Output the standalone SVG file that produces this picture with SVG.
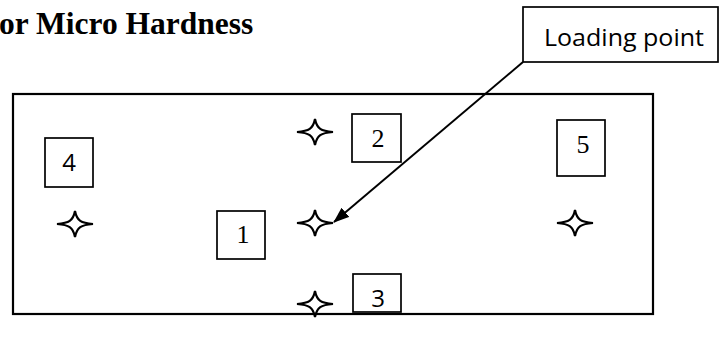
<svg xmlns="http://www.w3.org/2000/svg" xmlns:xlink="http://www.w3.org/1999/xlink" width="719" height="339" viewBox="0 0 719 339">
<style>
.box{fill:#fff;stroke:#000;stroke-width:1.7}
.serif{font-family:"Liberation Serif","Times New Roman",serif;font-size:26px;fill:#000;text-anchor:middle}
.sans{font-family:"Open Sans","Liberation Sans",sans-serif;font-size:24px;fill:#000;text-anchor:middle}
.star{fill:#fff;stroke:#000;stroke-width:2.2;stroke-linejoin:miter}
.conn{stroke:#000;stroke-width:2;fill:none}
</style>
<defs>
<path id="star" class="star" d="M-18,0 C-6,-1 -2,-3 0,-13 C2,-3 6,-1 18,0 C6,1 2,3 0,13 C-2,3 -6,1 -18,0 Z"/>
<marker id="arr" markerWidth="16" markerHeight="12" refX="15" refY="6" orient="auto" markerUnits="userSpaceOnUse">
<path d="M0,0 L16,6 L0,12 Z" fill="#000"/>
</marker>
</defs>
<rect width="719" height="339" fill="#fff"/>
<text x="-1" y="34" font-family="Liberation Serif,'Times New Roman',serif" font-weight="bold" font-size="31.5" fill="#000">or Micro Hardness</text>
<g id="specimen">
<rect x="13" y="94" width="640" height="220" fill="none" stroke="#000" stroke-width="2.2"/>
</g>
<g id="loading-point">
<rect class="box" x="523" y="7" width="195" height="55"/>
<text x="624" y="46" class="sans" textLength="160" lengthAdjust="spacingAndGlyphs">Loading point</text>
</g>
<g id="connectors">
<line class="conn" x1="523" y1="62" x2="334" y2="222" marker-end="url(#arr)"/>
</g>
<g id="star-2"><use xlink:href="#star" x="315" y="132"/></g>
<g id="star-4"><use xlink:href="#star" x="75" y="224"/></g>
<g id="star-1"><use xlink:href="#star" x="315" y="223"/></g>
<g id="star-3"><use xlink:href="#star" x="315" y="304"/></g>
<g id="star-5"><use xlink:href="#star" x="575" y="223"/></g>
<g id="box-2"><rect class="box" x="352" y="114" width="49" height="48"/><text class="serif" x="378" y="147">2</text></g>
<g id="box-4"><rect class="box" x="45" y="138" width="48" height="49"/><text class="sans" x="69" y="171">4</text></g>
<g id="box-5"><rect class="box" x="557" y="120" width="48" height="56"/><text class="serif" x="583" y="153">5</text></g>
<g id="box-1"><rect class="box" x="217" y="211" width="48" height="48"/><text class="serif" x="243" y="243">1</text></g>
<g id="box-3"><rect class="box" x="353" y="274" width="48" height="38"/><text class="sans" x="378" y="307">3</text></g>
</svg>
